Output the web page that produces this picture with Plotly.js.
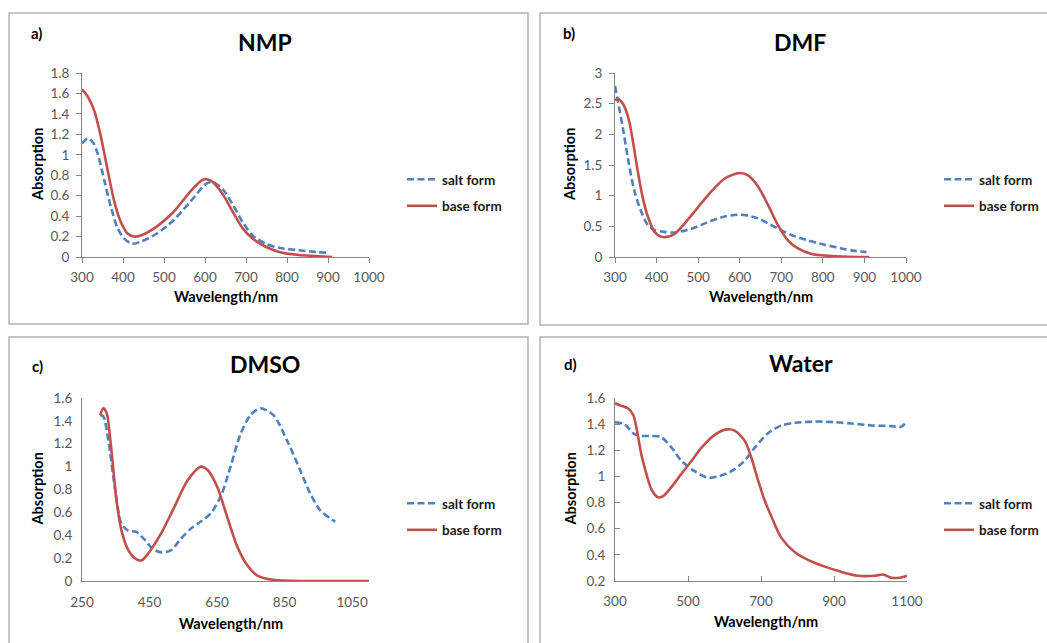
<!DOCTYPE html>
<html>
<head>
<meta charset="utf-8">
<script src="https://cdn.plot.ly/plotly-3.0.1.min.js"></script>
<style>html,body{margin:0;padding:0;background:#fff;}#chart{width:1047px;height:643px;}</style>
</head>
<body>
<div id="chart"></div>
<script>
// ---- Data ----
// a) NMP
const nmpSaltX = [300,314,327,339,355,371,387,403,423,443,483,523,564,604,620,644,668,692,716,748,781,829,869,905];
const nmpSaltY = [1.11,1.16,1.12,1.00,0.74,0.48,0.28,0.18,0.13,0.15,0.23,0.36,0.54,0.72,0.73,0.66,0.51,0.34,0.21,0.13,0.09,0.066,0.05,0.04];
const nmpBaseX = [300,314,330,347,363,379,395,411,427,443,483,523,564,592,604,620,644,668,692,716,748,781,829,869,910];
const nmpBaseY = [1.64,1.57,1.43,1.16,0.84,0.54,0.34,0.23,0.20,0.21,0.30,0.44,0.64,0.75,0.76,0.73,0.61,0.44,0.28,0.18,0.10,0.05,0.02,0.01,0.0];
// b) DMF
const dmfSaltX = [300,307,319,331,347,363,379,395,419,444,484,524,564,604,644,684,724,764,804,845,877,905];
const dmfSaltY = [2.79,2.54,2.10,1.61,1.07,0.74,0.52,0.44,0.41,0.40,0.46,0.57,0.66,0.69,0.63,0.49,0.36,0.27,0.20,0.14,0.10,0.08];
const dmfBaseX = [300,307,319,327,335,343,355,367,379,395,411,427,444,484,524,564,600,620,644,668,692,716,740,773,813,861,912];
const dmfBaseY = [2.55,2.58,2.50,2.38,2.19,1.89,1.39,0.96,0.66,0.41,0.33,0.33,0.38,0.68,1.01,1.28,1.37,1.33,1.15,0.85,0.52,0.27,0.14,0.05,0.02,0.005,0.0];
// c) DMSO
const dmsoSaltX = [304,313,328,348,367,387,411,436,460,485,514,543,573,602,631,661,690,719,749,778,817,857,896,925,955,984,1000];
const dmsoSaltY = [1.45,1.44,1.23,0.80,0.50,0.44,0.43,0.36,0.28,0.25,0.27,0.37,0.46,0.52,0.59,0.74,1.00,1.28,1.45,1.51,1.45,1.23,0.97,0.77,0.62,0.55,0.52];
const dmsoBaseX = [304,313,323,333,343,352,367,387,406,426,446,485,524,563,602,622,651,680,710,739,768,817,915,1000,1100];
const dmsoBaseY = [1.45,1.51,1.47,1.26,0.97,0.71,0.44,0.27,0.20,0.18,0.24,0.42,0.65,0.88,1.00,0.97,0.82,0.56,0.30,0.14,0.05,0.01,0.0,0.0,0.0];
// d) Water
const waterSaltX = [300,326,350,372,400,427,455,482,518,555,582,619,655,683,719,756,792,847,902,948,1003,1057,1084,1093,1100];
const waterSaltY = [1.415,1.40,1.33,1.31,1.31,1.30,1.22,1.12,1.04,0.99,1.00,1.04,1.12,1.22,1.33,1.39,1.41,1.42,1.415,1.405,1.39,1.385,1.38,1.40,1.42];
const waterBaseX = [300,317,336,350,359,372,386,400,418,432,455,482,510,537,574,606,628,656,674,692,711,729,756,793,830,875,920,966,1011,1034,1057,1080,1100];
const waterBaseY = [1.56,1.54,1.52,1.47,1.37,1.17,1.02,0.90,0.84,0.85,0.92,1.02,1.12,1.22,1.32,1.36,1.35,1.27,1.14,0.97,0.81,0.69,0.53,0.42,0.36,0.31,0.27,0.24,0.24,0.25,0.225,0.225,0.24];

const panelTitles = ['NMP','DMF','DMSO','Water'];
const panelLabels = ['a)','b)','c)','d)'];
const seriesNames = ['salt form','base form'];
const xTitle = 'Wavelength/nm';
const yTitle = 'Absorption';

// ---- Layout helpers ----
const W = 1047, H = 643;
const px = v => v / W;
const py = v => 1 - v / H;
const BLUE = '#4F81BD', RED = '#C0504D';
const FONT = 'Lato, "Open Sans", sans-serif';

const panels = [
  {sx: nmpSaltX, sy: nmpSaltY, bx: nmpBaseX, by: nmpBaseY, L: 82, R: 369, T: 73, B: 257,
   xr: [300,1000], xt0: 300, xdt: 100, yr: [0,1.8], ydt: 0.2, ticks: 'outside', xso: 3, yso: 4,
   titleX: 265, titleY: 42, labX: 36, labY: 33, ytX: 37, xtY: 297, legX: 402, legY: 164},
  {sx: dmfSaltX, sy: dmfSaltY, bx: dmfBaseX, by: dmfBaseY, L: 615, R: 906, T: 73, B: 257,
   xr: [300,1000], xt0: 300, xdt: 100, yr: [0,3], ydt: 0.5, ticks: 'outside', xso: 3, yso: 4,
   titleX: 800, titleY: 42, labX: 569, labY: 33, ytX: 569, xtY: 297, legX: 939, legY: 164},
  {sx: dmsoSaltX, sy: dmsoSaltY, bx: dmsoBaseX, by: dmsoBaseY, L: 82, R: 369, T: 398, B: 581,
   xr: [250,1100], xt0: 250, xdt: 200, yr: [0,1.6], ydt: 0.2, ticks: '', xso: 9, yso: 6,
   titleX: 265, titleY: 364, labX: 37, labY: 366, ytX: 37, xtY: 623, legX: 402, legY: 488},
  {sx: waterSaltX, sy: waterSaltY, bx: waterBaseX, by: waterBaseY, L: 615, R: 907, T: 398, B: 581,
   xr: [300,1100], xt0: 300, xdt: 200, yr: [0.2,1.6], ydt: 0.2, ticks: 'inside', xso: 8, yso: 6,
   titleX: 801, titleY: 363, labX: 570, labY: 364, ytX: 570, xtY: 621, legX: 939, legY: 488}
];

const data = [];
const layout = {
  width: W, height: H, autosize: false,
  margin: {l: 0, r: 0, t: 0, b: 0, pad: 0},
  paper_bgcolor: '#ffffff', plot_bgcolor: '#ffffff',
  font: {family: FONT, color: '#595959', size: 13},
  showlegend: true,
  annotations: [],
  shapes: []
};

// panel boxes
const boxes = [[9,13,528,324],[540,13,1052,325],[9,337,528,650],[540,337,1052,650]];
boxes.forEach(b => layout.shapes.push({type:'rect', xref:'paper', yref:'paper',
  x0: px(b[0]), x1: px(b[2]), y0: py(b[3]), y1: py(b[1]),
  line: {color:'#B4B4B4', width: 1.5}, fillcolor: 'rgba(0,0,0,0)'}));

panels.forEach((p, i) => {
  const n = i === 0 ? '' : String(i + 1);
  const legName = i === 0 ? 'legend' : 'legend' + (i + 1);
  data.push({type:'scatter', mode:'lines', x: p.sx, y: p.sy, name: seriesNames[0],
    xaxis: 'x' + n, yaxis: 'y' + n, legend: legName, legendgroup: 's' + i,
    line: {color: BLUE, width: 2.6, dash: '7px,3.5px', shape: 'spline', smoothing: 0.8}});
  data.push({type:'scatter', mode:'lines', x: p.bx, y: p.by, name: seriesNames[1],
    xaxis: 'x' + n, yaxis: 'y' + n, legend: legName, legendgroup: 'b' + i,
    line: {color: RED, width: 2.6, shape: 'spline', smoothing: 0.8}});

  layout['xaxis' + n] = {
    domain: [px(p.L), px(p.R)], anchor: 'y' + n, range: p.xr, tick0: p.xt0, dtick: p.xdt,
    showline: true, linecolor: '#868686', linewidth: 1, showgrid: false, zeroline: false,
    ticks: p.ticks, ticklen: 5, tickcolor: '#868686', ticklabelstandoff: p.xso,
    tickfont: {family: FONT, size: 13.5, color: '#595959'},
    fixedrange: true
  };
  layout['yaxis' + n] = {
    domain: [py(p.B), py(p.T)], anchor: 'x' + n, range: p.yr, dtick: p.ydt, tick0: 0,
    showline: true, linecolor: '#868686', linewidth: 1, showgrid: false, zeroline: false,
    ticks: p.ticks, ticklen: 5, tickcolor: '#868686', ticklabelstandoff: p.yso,
    tickfont: {family: FONT, size: 13.5, color: '#595959'},
    fixedrange: true
  };
  layout[legName] = {
    x: px(p.legX), y: py(p.legY), xanchor: 'left', yanchor: 'top', bgcolor: 'rgba(0,0,0,0)',
    borderwidth: 0, traceorder: 'grouped', tracegroupgap: 6,
    font: {family: FONT, size: 13.5, color: '#1a1a1a', weight: 'bold'}
  };
  const ann = (x, y, text, size, extra) => layout.annotations.push(Object.assign({
    xref:'paper', yref:'paper', x: px(x), y: py(y), text: text, showarrow: false,
    xanchor:'center', yanchor:'middle', font: {family: FONT, size: size, color: '#000000'}
  }, extra || {}));
  ann(p.titleX, p.titleY, '<b>' + panelTitles[i] + '</b>', 23);
  ann(p.labX, p.labY, '<b>' + panelLabels[i] + '</b>', 15);
  ann((p.L + p.R) / 2 + (i >= 2 ? 5 : 0), p.xtY, '<b>' + xTitle + '</b>', 14.5);
  ann(p.ytX, (p.T + p.B) / 2, '<b>' + yTitle + '</b>', 14.5, {textangle: -90});
});

Plotly.newPlot('chart', data, layout, {displayModeBar: false, staticPlot: true});
</script>
</body>
</html>
